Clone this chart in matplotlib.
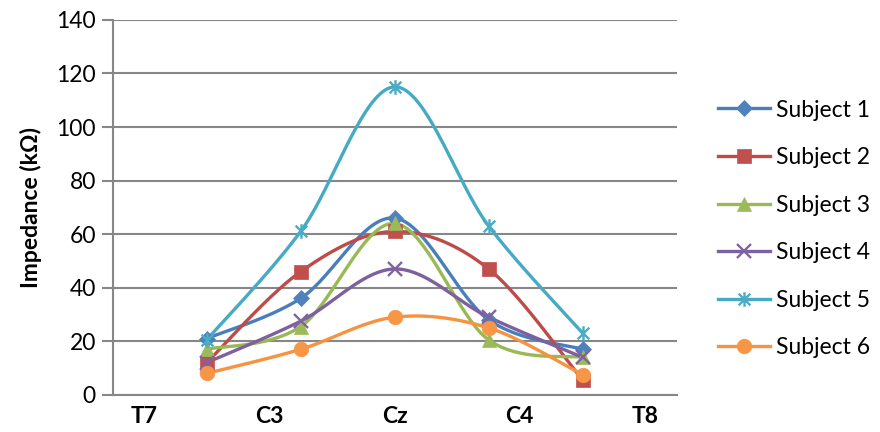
import numpy as np
import matplotlib
matplotlib.use("Agg")
import matplotlib.pyplot as plt
from matplotlib.path import Path

plt.rcParams['font.family'] = ['Lato', 'DejaVu Sans']

electrodes = ["T7", "C3", "Cz", "C4", "T8"]
subjects = ["Subject 1", "Subject 2", "Subject 3", "Subject 4", "Subject 5", "Subject 6"]
subject1 = [21, 36, 66, 28, 17]
subject2 = [12, 46, 61, 47, 5.5]
subject3 = [17, 25.5, 64, 20.5, 14]
subject4 = [12, 27.5, 47, 29, 14]
subject5 = [20.5, 61, 115, 63, 23]
subject6 = [8, 17, 29, 25, 7.5]
series = [subject1, subject2, subject3, subject4, subject5, subject6]

line_colors = ["#4A7EBB", "#BE4B48", "#98B954", "#7D60A0", "#46AAC5", "#F69240"]
marker_colors = ["#4F81BD", "#C0504D", "#9BBB59", "#8064A2", "#4BACC6", "#F79646"]

# asterisk marker: an x with a vertical bar through it
asterisk = Path(
    [(-1, -1), (1, 1), (-1, 1), (1, -1), (0, -1.25), (0, 1.25)],
    [Path.MOVETO, Path.LINETO, Path.MOVETO, Path.LINETO, Path.MOVETO, Path.LINETO],
)
markers = ["D", "s", "^", "x", asterisk, "o"]
marker_sizes = [8.5, 9.5, 10, 9.5, 10.5, 10.5]


def smooth(xs, ys, n=40):
    """Catmull-Rom style Bezier smoothing through every point."""
    pts = np.column_stack([xs, ys]).astype(float)
    out = [pts[0]]
    t = np.linspace(0, 1, n)[1:, None]
    for i in range(len(pts) - 1):
        p0 = pts[i - 1] if i > 0 else pts[i]
        p1 = pts[i]
        p2 = pts[i + 1]
        p3 = pts[i + 2] if i + 2 < len(pts) else pts[i + 1]
        c1 = p1 + (p2 - p0) / 6.0
        c2 = p2 - (p3 - p1) / 6.0
        seg = ((1 - t) ** 3) * p1 + 3 * ((1 - t) ** 2) * t * c1 + 3 * (1 - t) * t ** 2 * c2 + t ** 3 * p2
        out.extend(seg)
    out = np.array(out)
    return out[:, 0], out[:, 1]


fig = plt.figure(figsize=(8.8, 4.32), dpi=100)
ax = fig.add_axes([0.128, 0.086, 0.641, 0.868])

xpos = np.arange(1, len(electrodes) + 1)
for vals, name, lc, mc, mk, ms in zip(series, subjects, line_colors, marker_colors, markers, marker_sizes):
    sx, sy = smooth(xpos, vals)
    ax.plot(sx, sy, color=lc, lw=2.4, zorder=3, solid_capstyle="round")
    mew = 1.7 if mk in ("x",) or isinstance(mk, Path) else 0.5
    ax.plot(xpos, vals, linestyle="none", marker=mk, markersize=ms,
            markerfacecolor=mc, markeredgecolor=mc, markeredgewidth=mew, zorder=4)
    ax.plot([], [], color=lc, lw=2.4, marker=mk, markersize=ms,
            markerfacecolor=mc, markeredgecolor=mc, markeredgewidth=mew, label=name)

ax.set_xlim(0, 6)
ax.set_ylim(0, 140)
ax.set_yticks(np.arange(0, 141, 20))
ax.yaxis.grid(True, color="#878787", lw=1.5)
ax.set_axisbelow(True)
ax.set_xticks(np.linspace(0.34, 5.66, len(electrodes)))
ax.set_xticklabels(electrodes, fontweight="bold", fontsize=16.5)
ax.tick_params(axis="x", length=0, pad=8)
ax.tick_params(axis="y", length=8, width=1.5, color="#878787", labelsize=16.5, pad=4)
for side in ("top", "right"):
    ax.spines[side].set_visible(False)
for side in ("left", "bottom"):
    ax.spines[side].set_color("#878787")
    ax.spines[side].set_linewidth(1.5)

ax.set_ylabel("Impedance (kΩ)", fontweight="bold", fontsize=16.5, labelpad=10)

fig.legend(loc="center left", bbox_to_anchor=(0.792, 0.47), frameon=False,
           fontsize=16.5, handlelength=2.3, handletextpad=0.26, labelspacing=1.16)

fig.savefig("out.png", dpi=100)
